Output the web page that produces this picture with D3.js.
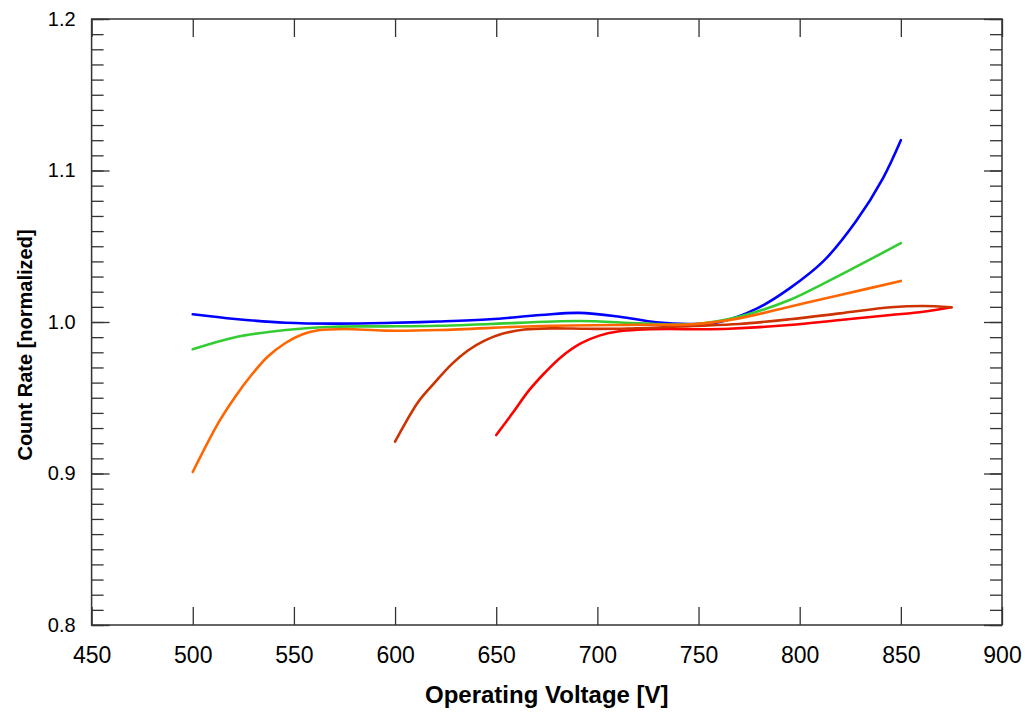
<!DOCTYPE html>
<html>
<head>
<meta charset="utf-8">
<script src="https://cdn.jsdelivr.net/npm/d3@7"></script>
<style>
  body { margin: 0; background: #fff; }
  text { font-family: "Liberation Sans", Arial, sans-serif; fill: #000; }
</style>
</head>
<body>
<div id="chart"></div>
<script>
// svg area
var svgWidth = 1025;
var svgHeight = 712;

// plot frame
var margin = { top: 19, right: 23, bottom: 87, left: 91.6 };
var chartWidth = svgWidth - margin.left - margin.right;
var chartHeight = svgHeight - margin.top - margin.bottom;

// axis ticks
var xTicks = [450, 500, 550, 600, 650, 700, 750, 800, 850, 900];
var yTicks = [0.8, 0.9, 1.0, 1.1, 1.2];
var yMinor = d3.range(80, 121).map(d => d / 100);

// series: voltages and normalized rates
var blueV = [500, 521, 546, 570, 595, 621, 647, 672, 691, 711, 729, 747, 761, 779, 795, 812, 828, 841, 850];
var blueY = [1.0051, 1.002, 0.9995, 0.9989, 0.9993, 1.0003, 1.0018, 1.0046, 1.006, 1.0035, 0.9998, 0.9987, 1.0002, 1.009, 1.0222, 1.0405, 1.0668, 1.0945, 1.120];

var greenV = [500, 521, 546, 570, 595, 621, 647, 691, 721, 747, 770, 795, 812, 828, 850];
var greenY = [0.982, 0.990, 0.9947, 0.9969, 0.9971, 0.9975, 0.9987, 1.0007, 0.9991, 0.9985, 1.0035, 1.0145, 1.0255, 1.0365, 1.052];

var orangeV = [500, 513, 521, 529, 537, 546, 554, 562, 575, 595, 622, 672, 721, 747, 770, 795, 820, 850];
var orangeY = [0.901, 0.9342, 0.9507, 0.965, 0.9771, 0.9863, 0.9918, 0.9945, 0.9954, 0.9943, 0.9947, 0.9974, 0.9982, 0.9985, 1.0024, 1.0101, 1.0178, 1.0271];

var rustV = [600, 605, 611.5, 620, 628, 636, 644.5, 653, 664, 678, 695, 715, 747, 770, 795, 820, 845, 861, 875];
var rustY = [0.921, 0.9331, 0.9474, 0.9606, 0.9722, 0.9812, 0.9879, 0.9922, 0.9950, 0.9958, 0.9955, 0.9957, 0.9974, 0.9987, 1.0018, 1.0057, 1.0097, 1.0106, 1.0097];

var redV = [650, 658, 666, 674, 682, 692, 701, 710, 720, 735, 750, 765, 795, 820, 845, 861, 875];
var redY = [0.9254, 0.9397, 0.9545, 0.9665, 0.9768, 0.9860, 0.9910, 0.9937, 0.9949, 0.9954, 0.9952, 0.9955, 0.998, 1.0013, 1.0046, 1.0068, 1.0097];

var series = [
    { v: blueV, y: blueY, color: "#0000ff" },
    { v: greenV, y: greenY, color: "#33cc33" },
    { v: redV, y: redY, color: "#ff0000" },
    { v: rustV, y: rustY, color: "#cc3300" },
    { v: orangeV, y: orangeY, color: "#ff6600" }
];

var svg = d3.select("#chart")
    .append("svg")
    .attr("width", svgWidth)
    .attr("height", svgHeight);

var chartGroup = svg.append("g")
    .attr("transform", `translate(${margin.left}, ${margin.top})`);

// scales
var xScale = d3.scaleLinear().domain([450, 900]).range([0, chartWidth]);
var yScale = d3.scaleLinear().domain([0.8, 1.2]).range([chartHeight, 0]);

// minor y ticks, left and right
chartGroup.append("g")
    .call(d3.axisLeft(yScale).tickValues(yMinor).tickSize(-12).tickSizeOuter(0).tickFormat(""));
chartGroup.append("g")
    .attr("transform", `translate(${chartWidth}, 0)`)
    .call(d3.axisRight(yScale).tickValues(yMinor).tickSize(-12).tickSizeOuter(0).tickFormat(""));

// major y ticks with labels
var leftAxis = chartGroup.append("g")
    .call(d3.axisLeft(yScale).tickValues(yTicks).tickSize(-18).tickSizeOuter(0)
        .tickPadding(16).tickFormat(d3.format(".1f")));
leftAxis.selectAll("text").style("font-size", "20px");

chartGroup.append("g")
    .attr("transform", `translate(${chartWidth}, 0)`)
    .call(d3.axisRight(yScale).tickValues(yTicks).tickSize(-18).tickSizeOuter(0).tickFormat(""));

// x ticks, bottom and top
var bottomAxis = chartGroup.append("g")
    .attr("transform", `translate(0, ${chartHeight})`)
    .call(d3.axisBottom(xScale).tickValues(xTicks).tickSize(-18).tickSizeOuter(0).tickPadding(22));
bottomAxis.selectAll("text").style("font-size", "23px");

chartGroup.append("g")
    .call(d3.axisTop(xScale).tickValues(xTicks).tickSize(-18).tickSizeOuter(0).tickFormat(""));

chartGroup.selectAll(".domain").remove();
chartGroup.selectAll(".tick line").attr("stroke", "#333").attr("stroke-width", 1.3);

// frame
chartGroup.append("rect")
    .attr("width", chartWidth)
    .attr("height", chartHeight)
    .attr("fill", "none")
    .attr("stroke", "#333")
    .attr("stroke-width", 1.5);

// curves
var line = d3.line()
    .x(d => xScale(d[0]))
    .y(d => yScale(d[1]))
    .curve(d3.curveCatmullRom.alpha(0.5));

series.forEach(function(s) {
    chartGroup.append("path")
        .datum(s.v.map((v, i) => [v, s.y[i]]))
        .attr("fill", "none")
        .attr("stroke", s.color)
        .attr("stroke-width", 2.6)
        .attr("stroke-linecap", "round")
        .attr("d", line);
});

// axis titles
svg.append("text")
    .attr("x", margin.left + chartWidth / 2)
    .attr("y", 703)
    .attr("text-anchor", "middle")
    .style("font-size", "24px")
    .style("font-weight", "bold")
    .text("Operating Voltage [V]");

svg.append("text")
    .attr("transform", "translate(32, 345) rotate(-90)")
    .attr("text-anchor", "middle")
    .style("font-size", "20px")
    .style("font-weight", "bold")
    .text("Count Rate [normalized]");
</script>
</body>
</html>
